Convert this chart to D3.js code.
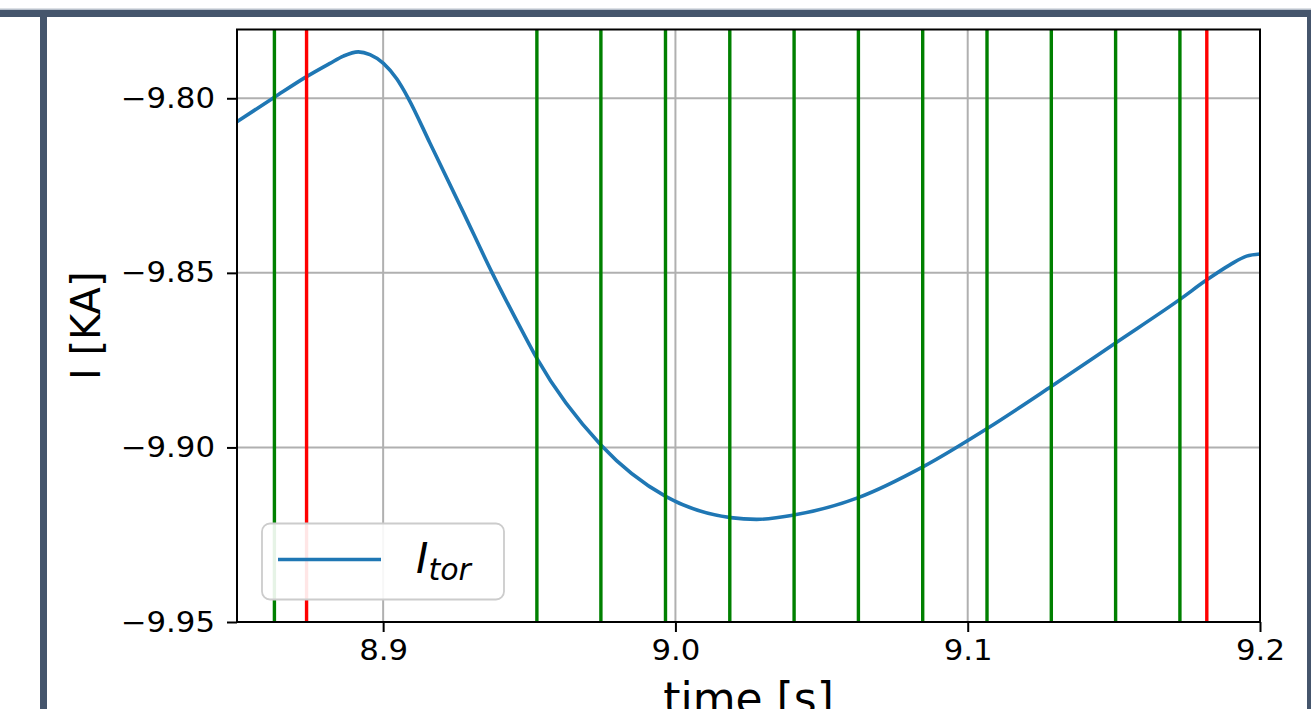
<!DOCTYPE html>
<html>
<head>
<meta charset="utf-8">
<script src="https://cdn.jsdelivr.net/npm/d3@7"></script>
<style>
  body { margin: 0; background: #fff; }
  svg { display: block; font-family: "DejaVu Sans", sans-serif; }
</style>
</head>
<body>
<div class="chart"></div>
<script>
// toroidal current trace
const timeS = [8.85, 8.8628, 8.8738, 8.8818, 8.8864, 8.8915, 8.8955, 8.9001, 8.9047, 8.9086,
  8.916, 8.9274, 8.9373, 8.9474, 8.9526, 8.9745, 8.9968, 9.0189, 9.0278, 9.0409,
  9.0628, 9.0848, 9.1068, 9.1288, 9.1507, 9.1726, 9.1818, 9.1897, 9.1954, 9.2];
const currentKA = [-9.8067, -9.7997, -9.7938, -9.79, -9.7879, -9.7867, -9.7875, -9.79, -9.7945, -9.8,
  -9.8128, -9.8326, -9.85, -9.8664, -9.8745, -9.8993, -9.9141, -9.9201, -9.9206, -9.9193,
  -9.9143, -9.9055, -9.8945, -9.8824, -9.87, -9.8576, -9.852, -9.8477, -9.8452, -9.8446];

// marker lines
const greenTimes = [8.8628, 8.9526, 8.9745, 8.9966, 9.0186, 9.0406, 9.0626, 9.0846, 9.1066, 9.1286, 9.1506, 9.1726];
const redTimes = [8.8738, 9.1818];

const xTicks = [8.9, 9.0, 9.1, 9.2];
const yTicks = [-9.95, -9.90, -9.85, -9.80];

const width = 1311, height = 709;
const plotLeft = 237, plotRight = 1260, plotTop = 29.5, plotBottom = 622;

const svg = d3.select('.chart')
  .append('svg')
  .attr('width', width)
  .attr('height', height);

// frame bars around the figure
svg.append('rect').attr('x', 0).attr('y', 8.5).attr('width', width).attr('height', 1.5).attr('fill', '#b9c1cc');
svg.append('rect').attr('x', 0).attr('y', 10).attr('width', width).attr('height', 7).attr('fill', '#45556c');
svg.append('rect').attr('x', 40).attr('y', 17).attr('width', 7).attr('height', height - 17).attr('fill', '#45556c');
svg.append('rect').attr('x', 1307).attr('y', 17).attr('width', 4).attr('height', height - 17).attr('fill', '#45556c');

const x = d3.scaleLinear().domain([8.85, 9.2]).range([plotLeft, plotRight]);
const y = d3.scaleLinear().domain([-9.95, -9.7803]).range([plotBottom, plotTop]);

// grid
svg.append('g')
  .selectAll('line')
  .data(xTicks)
  .enter()
  .append('line')
  .attr('x1', d => x(d)).attr('x2', d => x(d))
  .attr('y1', plotTop).attr('y2', plotBottom)
  .attr('stroke', '#b0b0b0').attr('stroke-width', 2);

svg.append('g')
  .selectAll('line')
  .data(yTicks)
  .enter()
  .append('line')
  .attr('x1', plotLeft).attr('x2', plotRight)
  .attr('y1', d => y(d)).attr('y2', d => y(d))
  .attr('stroke', '#b0b0b0').attr('stroke-width', 2);

// current curve
const points = timeS.map((t, i) => [t, currentKA[i]]);
const line = d3.line()
  .x(d => x(d[0]))
  .y(d => y(d[1]))
  .curve(d3.curveMonotoneX);

svg.append('path')
  .datum(points)
  .attr('d', line)
  .attr('fill', 'none')
  .attr('stroke', '#1f77b4')
  .attr('stroke-width', 3.6)
  .attr('stroke-linejoin', 'round');

// vertical markers
const markers = greenTimes.map(t => ({t: t, c: '#008000'}))
  .concat(redTimes.map(t => ({t: t, c: '#ff0000'})));

svg.append('g')
  .selectAll('line')
  .data(markers)
  .enter()
  .append('line')
  .attr('x1', d => x(d.t)).attr('x2', d => x(d.t))
  .attr('y1', plotTop).attr('y2', plotBottom)
  .attr('stroke', d => d.c)
  .attr('stroke-width', 3.4);

// axes
const xAxis = svg.append('g')
  .attr('transform', 'translate(0,' + plotBottom + ')')
  .call(d3.axisBottom(x).tickValues(xTicks).tickFormat(d3.format('.1f')).tickSize(10).tickPadding(8));

const yAxis = svg.append('g')
  .attr('transform', 'translate(' + plotLeft + ',0)')
  .call(d3.axisLeft(y).tickValues(yTicks).tickFormat(d3.format('.2f')).tickSize(10).tickPadding(12));

[xAxis, yAxis].forEach(function(a) {
  a.select('.domain').remove();
  a.selectAll('line').attr('stroke', '#000').attr('stroke-width', 2);
  a.selectAll('text')
    .attr('fill', '#000')
    .style('font-family', '"DejaVu Sans", sans-serif')
    .style('font-size', '28.5px')
    .each(function() {
      // tick labels in the picture run a little wide
      const w = this.getComputedTextLength();
      d3.select(this).attr('textLength', w * 1.08).attr('lengthAdjust', 'spacingAndGlyphs');
    });
});

// spines
svg.append('rect')
  .attr('x', plotLeft).attr('y', plotTop)
  .attr('width', plotRight - plotLeft).attr('height', plotBottom - plotTop)
  .attr('fill', 'none')
  .attr('stroke', '#000')
  .attr('stroke-width', 2);

// axis labels
svg.append('text')
  .attr('x', (plotLeft + plotRight) / 2)
  .attr('y', 714)
  .attr('text-anchor', 'middle')
  .style('font-size', '44px')
  .text('time [s]');

svg.append('text')
  .attr('transform', 'translate(100,' + ((plotTop + plotBottom) / 2) + ') rotate(-90)')
  .attr('text-anchor', 'middle')
  .style('font-size', '40px')
  .text('I [KA]');

// legend
const legend = svg.append('g').attr('class', 'legend');

legend.append('rect')
  .attr('x', 262).attr('y', 523.5)
  .attr('width', 242).attr('height', 76)
  .attr('rx', 8).attr('ry', 8)
  .attr('fill', '#fff')
  .attr('fill-opacity', 0.9)
  .attr('stroke', '#cccccc')
  .attr('stroke-width', 1.8);

legend.append('line')
  .attr('x1', 278).attr('x2', 381)
  .attr('y1', 559.5).attr('y2', 559.5)
  .attr('stroke', '#1f77b4')
  .attr('stroke-width', 3.6);

const label = legend.append('text')
  .attr('x', 416).attr('y', 573)
  .style('font-size', '42px')
  .style('font-style', 'italic');
label.append('tspan').text('I');
label.append('tspan')
  .attr('dy', 7)
  .style('font-size', '30px')
  .text('tor');
</script>
</body>
</html>
